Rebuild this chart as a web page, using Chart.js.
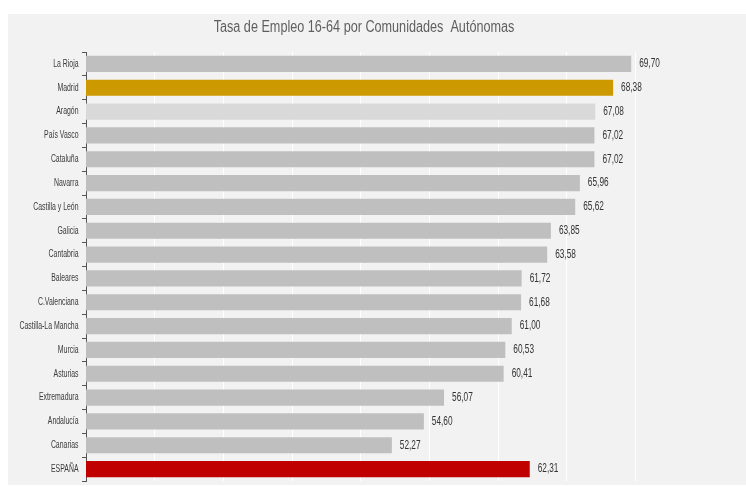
<!DOCTYPE html>
<html>
<head>
<meta charset="utf-8">
<script src="https://cdn.jsdelivr.net/npm/chart.js@4"></script>
<style>
  body { margin:0; background:#fff; }
  #wrap { position:relative; width:746px; height:487px; }
  #bg { position:absolute; left:8px; top:14px; right:0; bottom:2px; background:#f2f2f2; }
  #c { position:absolute; left:0; top:0; }
</style>
</head>
<body>
<div id="wrap"><div id="bg"></div><canvas id="c" width="746" height="487"></canvas></div>
<script>
// Tasa de Empleo 16-64
const titulo = 'Tasa de Empleo 16-64 por Comunidades  Autónomas';
const regiones = ['La Rioja','Madrid','Aragón','País Vasco','Cataluña','Navarra','Castilla y León','Galicia','Cantabria','Baleares','C.Valenciana','Castilla-La Mancha','Murcia','Asturias','Extremadura','Andalucía','Canarias','ESPAÑA'];
const tasas = [69.70, 68.38, 67.08, 67.02, 67.02, 65.96, 65.62, 63.85, 63.58, 61.72, 61.68, 61.00, 60.53, 60.41, 56.07, 54.60, 52.27, 62.31];
const colores = regiones.map(r => r === 'Madrid' ? '#cc9900' : r === 'Aragón' ? '#d9d9d9' : r === 'ESPAÑA' ? '#c00000' : '#bfbfbf');

const fam = "'Liberation Sans', Arial, sans-serif";
const fmt = v => v.toFixed(2).replace('.', ',');

// texto estrecho (la fuente original es condensada)
function narrowText(ctx, txt, x, y, size, sx, color, align) {
  ctx.save();
  ctx.font = size + 'px ' + fam;
  ctx.fillStyle = color;
  ctx.textAlign = align;
  ctx.textBaseline = 'middle';
  ctx.translate(x, y);
  ctx.scale(sx, 1);
  ctx.fillText(txt, 0, 0);
  ctx.restore();
}

const textos = {
  id: 'textos',
  afterDraw(chart) {
    const ctx = chart.ctx, ys = chart.scales.y;
    narrowText(ctx, titulo, 364, 28, 16, 0.79, '#5f5f5f', 'center');
    regiones.forEach((r, i) => narrowText(ctx, r, ys.right - 7.5, ys.getPixelForTick(i), 10, 0.69, '#3a3a3a', 'right'));
    chart.getDatasetMeta(0).data.forEach((bar, i) => narrowText(ctx, fmt(tasas[i]), bar.x + 8, bar.y, 12, 0.69, '#333', 'left'));
  }
};

new Chart(document.getElementById('c'), {
  type: 'bar',
  data: { labels: regiones, datasets: [{ data: tasas, backgroundColor: colores, barPercentage: 0.68, categoryPercentage: 1 }] },
  options: {
    indexAxis: 'y',
    responsive: false,
    animation: false,
    layout: { padding: { left: 0, right: 20, top: 52, bottom: 6 } },
    plugins: { legend: { display: false }, tooltip: { enabled: false }, title: { display: false } },
    scales: {
      x: {
        min: 30, max: 76.6,
        afterBuildTicks: ax => { ax.ticks = ax.ticks.filter(t => t.value % 5 === 0); },
        ticks: { display: false, stepSize: 5 },
        grid: { color: '#ffffff', lineWidth: 1, drawTicks: false },
        border: { display: false }
      },
      y: {
        afterFit: ax => { ax.width = 86; },
        ticks: { display: false },
        grid: { drawOnChartArea: false, offset: true, tickLength: 4, color: '#555' },
        border: { color: '#555', width: 1 }
      }
    }
  },
  plugins: [textos]
});
</script>
</body>
</html>
